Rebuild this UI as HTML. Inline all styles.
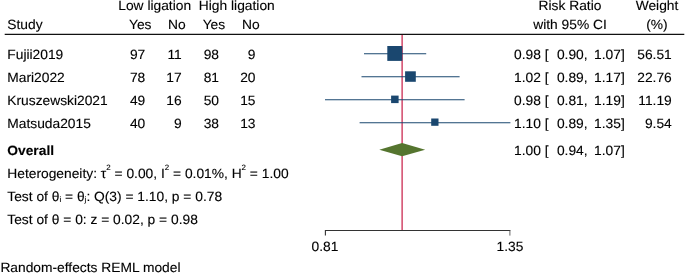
<!DOCTYPE html>
<html><head><meta charset="utf-8">
<style>
html,body{margin:0;padding:0;background:#fff;}
svg{display:block;}
text{font-family:"Liberation Sans",sans-serif;font-size:13.4px;fill:#000;stroke:#000;stroke-width:0.12px;text-rendering:geometricPrecision;}
.b{font-weight:bold;}
.sup{font-size:7.7px;}
.e{text-anchor:end;}
.m{text-anchor:middle;}
</style></head><body>
<svg width="685" height="273" viewBox="0 0 685 273">
<rect width="685" height="273" fill="#fff"/>
<g transform="scale(1.03 1)">
<text x="150.19" y="10.00" class="m">Low ligation</text>
<text x="229.90" y="10.00" class="m">High ligation</text>
<text x="7.09" y="29.00">Study</text>
<text x="136.12" y="29.00" class="m">Yes</text>
<text x="171.75" y="29.00" class="m">No</text>
<text x="207.67" y="29.00" class="m">Yes</text>
<text x="243.59" y="29.00" class="m">No</text>
<text x="553.40" y="10.00" class="m">Risk Ratio</text>
<text x="553.40" y="29.00" class="m">with 95% CI</text>
<text x="637.86" y="10.00" class="m">Weight</text>
<text x="637.86" y="29.00" class="m">(%)</text>
<text x="7.09" y="59.00">Fujii2019</text>
<text x="141.07" y="59.00" class="e">97</text>
<text x="176.41" y="59.00" class="e">11</text>
<text x="212.62" y="59.00" class="e">98</text>
<text x="248.06" y="59.00" class="e">9</text>
<text x="499.03" y="59.00">0.98 [</text>
<text x="570.49" y="59.00" class="e">0.90,</text>
<text x="606.60" y="59.00" class="e">1.07]</text>
<text x="652.23" y="59.00" class="e">56.51</text>
<text x="7.09" y="82.00">Mari2022</text>
<text x="141.07" y="82.00" class="e">78</text>
<text x="176.41" y="82.00" class="e">17</text>
<text x="212.62" y="82.00" class="e">81</text>
<text x="248.06" y="82.00" class="e">20</text>
<text x="499.03" y="82.00">1.02 [</text>
<text x="570.49" y="82.00" class="e">0.89,</text>
<text x="606.60" y="82.00" class="e">1.17]</text>
<text x="652.23" y="82.00" class="e">22.76</text>
<text x="7.09" y="105.00">Kruszewski2021</text>
<text x="141.07" y="105.00" class="e">49</text>
<text x="176.41" y="105.00" class="e">16</text>
<text x="212.62" y="105.00" class="e">50</text>
<text x="248.06" y="105.00" class="e">15</text>
<text x="499.03" y="105.00">0.98 [</text>
<text x="570.49" y="105.00" class="e">0.81,</text>
<text x="606.60" y="105.00" class="e">1.19]</text>
<text x="652.23" y="105.00" class="e">11.19</text>
<text x="7.09" y="128.00">Matsuda2015</text>
<text x="141.07" y="128.00" class="e">40</text>
<text x="176.41" y="128.00" class="e">9</text>
<text x="212.62" y="128.00" class="e">38</text>
<text x="248.06" y="128.00" class="e">13</text>
<text x="499.03" y="128.00">1.10 [</text>
<text x="570.49" y="128.00" class="e">0.89,</text>
<text x="606.60" y="128.00" class="e">1.35]</text>
<text x="652.23" y="128.00" class="e">9.54</text>
<text x="7.09" y="155.00" class="b">Overall</text>
<text x="499.03" y="155.00">1.00 [</text>
<text x="570.49" y="155.00" class="e">0.94,</text>
<text x="606.60" y="155.00" class="e">1.07]</text>
<text x="7.09" y="178.00">Heterogeneity: τ<tspan class="sup" dy="-8.5">2</tspan><tspan dy="8.5"> = 0.00, I</tspan><tspan class="sup" dy="-8.5">2</tspan><tspan dy="8.5"> = 0.01%, H</tspan><tspan class="sup" dy="-8.5">2</tspan><tspan dy="8.5"> = 1.00</tspan></text>
<text x="7.09" y="201.00">Test of θ<tspan class="sup" dy="1">i</tspan><tspan dy="-1"> = θ</tspan><tspan class="sup" dy="1">j</tspan><tspan dy="-1">: Q(3) = 1.10, p = 0.78</tspan></text>
<text x="7.09" y="224.00">Test of θ = 0: z = 0.02, p = 0.98</text>
<text x="0.39" y="272.00">Random-effects REML model</text>
<text x="315.53" y="251.00" class="m">0.81</text>
<text x="495.15" y="251.00" class="m">1.35</text>
</g>
<line x1="402.1" y1="34" x2="402.1" y2="230.5" stroke="#c10534" stroke-width="1.1"/>
<g stroke="#1a476f" stroke-width="1.15">
<line x1="364" y1="53.7" x2="426.2" y2="53.7"/>
<line x1="361.5" y1="76.7" x2="459.6" y2="76.7"/>
<line x1="325" y1="99.7" x2="464.6" y2="99.7"/>
<line x1="359.6" y1="122.7" x2="510.4" y2="122.7"/>
</g>
<g fill="#1a476f">
<rect x="387.3" y="46" width="15" height="14.9"/>
<rect x="405.1" y="71.3" width="10.7" height="10.5"/>
<rect x="391.1" y="95.6" width="7.5" height="7.5"/>
<rect x="431.2" y="118.5" width="7.3" height="7.3"/>
</g>
<polygon points="379.3,149.7 402.1,143.1 425.2,149.7 402.1,156.3" fill="#55752f"/>
<line x1="4.7" y1="34.4" x2="684.3" y2="34.4" stroke="#111" stroke-width="1.2"/>
<polyline points="325.4,235.6 325.4,230.5 510.4,230.5" fill="none" stroke="#333" stroke-width="1.1"/>
<line x1="509.9" y1="230.5" x2="509.9" y2="235.6" stroke="#555" stroke-width="0.9"/>
</svg>
</body></html>
